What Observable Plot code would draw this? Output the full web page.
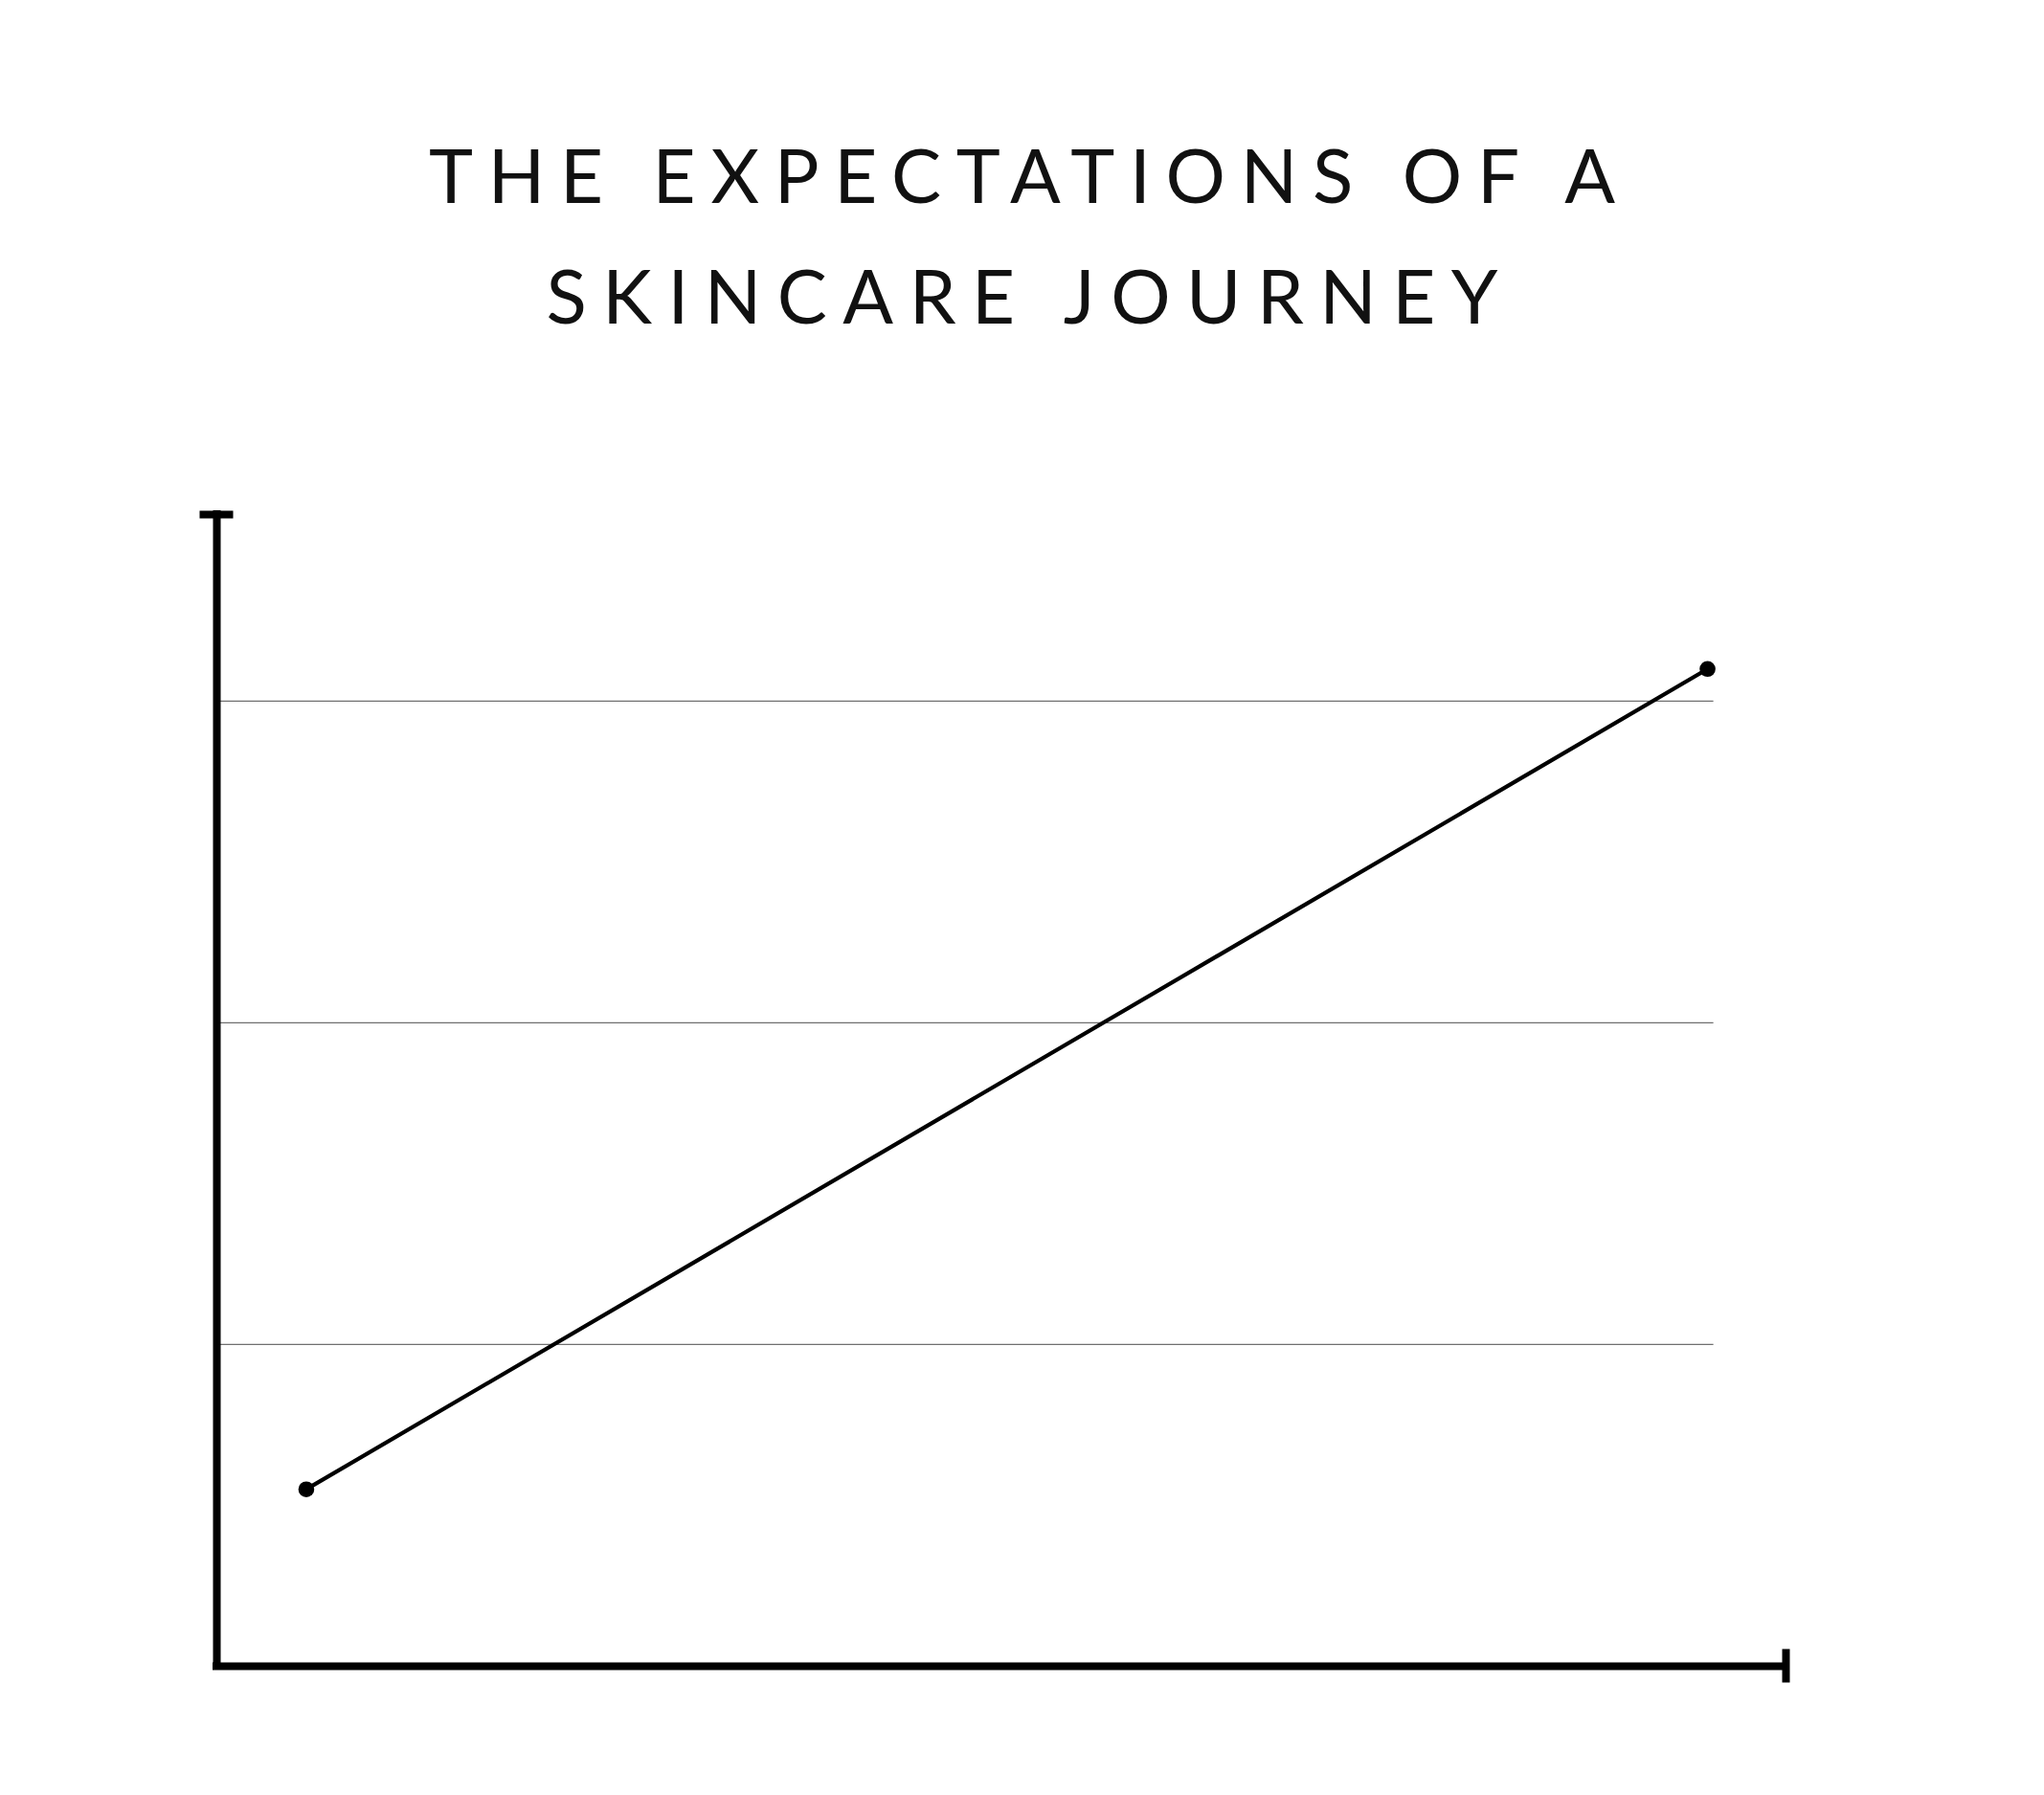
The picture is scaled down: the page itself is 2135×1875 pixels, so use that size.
<!DOCTYPE html>
<html>
<head>
<meta charset="utf-8">
<script src="https://cdn.jsdelivr.net/npm/d3@7"></script>
<script src="https://cdn.jsdelivr.net/npm/@observablehq/plot@0.6"></script>
<style>
  html, body { margin: 0; padding: 0; background: #fff; }
  #page { position: relative; width: 2135px; height: 1875px; overflow: hidden; }
  #title { position: absolute; left: 0; top: 0; width: 2135px; height: 420px;
           font-family: "Lato", "Inter", sans-serif; font-weight: 400; font-size: 78px;
           color: #111; text-align: center; }
  #title .line { position: absolute; left: 0; width: 100%; white-space: nowrap; line-height: 1; }
  #title .line span { display: inline-block; }
  #chart { position: absolute; left: 0; top: 420px; }
</style>
</head>
<body>
<div id="page">
  <div id="title"></div>
  <div id="chart"></div>
</div>
<script>
// Title text, one entry per line
const titleLines = ["THE EXPECTATIONS OF A", "SKINCARE JOURNEY"];

// Journey progress (x) and expectation level (y) at start and end
const journeyStage = [0.57, 9.5];
const expectationLevel = [0.55, 3.1];

// Horizontal reference levels
const gridLevels = [1, 2, 3];

// Axis extents
const xMax = 10;
const yMax = 3.58;
const gridEnd = 9.54;

// ---- title ----
const titleEl = document.getElementById("title");
const lineTops = [143, 269];
const lineWidths = [1239, 994];
titleLines.forEach((t, i) => {
  const div = document.createElement("div");
  div.className = "line";
  div.style.top = lineTops[i] + "px";
  const span = document.createElement("span");
  span.textContent = t;
  div.appendChild(span);
  titleEl.appendChild(div);
  const w0 = span.getBoundingClientRect().width;
  const ls = (lineWidths[i] - w0) / (t.length - 1);
  span.style.letterSpacing = ls + "px";
  span.style.marginRight = (-ls) + "px";
});

// ---- chart ----
const data = journeyStage.map((x, i) => ({x, y: expectationLevel[i]}));

const chart = Plot.plot({
  width: 2135,
  height: 1455,
  marginLeft: 226,
  marginRight: 270,
  marginTop: 117,
  marginBottom: 135,
  x: {domain: [0, xMax], axis: null},
  y: {domain: [0, yMax], axis: null},
  marks: [
    Plot.ruleY(gridLevels, {x1: 0, x2: gridEnd, stroke: "#6f6f6f", strokeWidth: 1.3}),
    Plot.ruleX([0], {y1: 0, y2: yMax, stroke: "#000", strokeWidth: 8, strokeLinecap: "square"}),
    Plot.ruleY([0], {x1: 0, x2: xMax, stroke: "#000", strokeWidth: 8, strokeLinecap: "square"}),
    Plot.ruleY([yMax], {x1: 0, x2: 0, insetLeft: -17.5, insetRight: -17.5, stroke: "#000", strokeWidth: 8}),
    Plot.ruleX([xMax], {y1: 0, y2: 0, insetTop: -17.5, insetBottom: -17.5, stroke: "#000", strokeWidth: 8}),
    Plot.line(data, {x: "x", y: "y", stroke: "#000", strokeWidth: 4.2}),
    Plot.dot(data, {x: "x", y: "y", r: 8.3, fill: "#000", stroke: "none"})
  ]
});
document.getElementById("chart").appendChild(chart);
</script>
</body>
</html>
